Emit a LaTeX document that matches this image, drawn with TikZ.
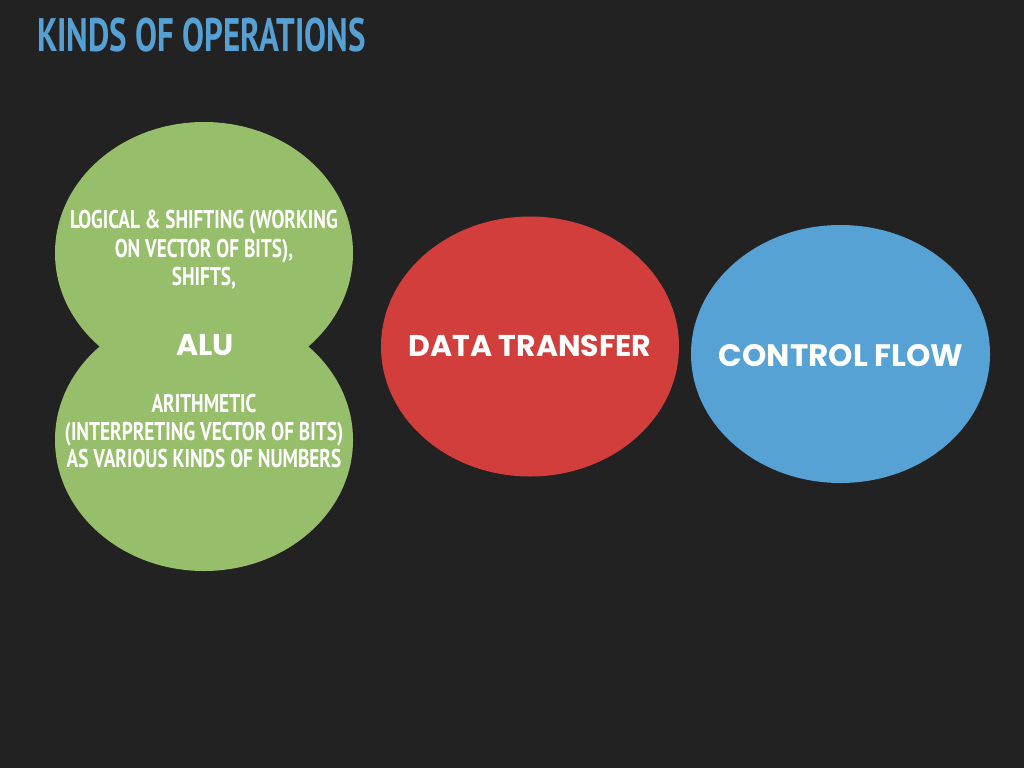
\documentclass[tikz,border=0pt]{standalone}
\usepackage{fontspec}
\usetikzlibrary{shapes.geometric}
\newfontfamily\dinfont{PT Sans}[FakeStretch=0.75]
\newfontfamily\dintitle{PT Sans}[FakeStretch=0.70]
\newfontfamily\heavyfont{Poppins}
\definecolor{bg}{HTML}{222222}
\definecolor{titleblue}{HTML}{56A0D3}
\definecolor{algreen}{HTML}{97BE6A}
\definecolor{dtred}{HTML}{D13E3C}
\definecolor{cfblue}{HTML}{56A2D5}
\tikzset{
  blob/.style={ellipse, inner sep=0pt, minimum width=298pt, minimum height=262pt, draw=none},
  cond/.style={text=white, anchor=base, inner sep=0pt, font=\dinfont\bfseries\fontsize{25.7}{28}\selectfont},
  heavy/.style={text=white, anchor=base, inner sep=0pt, font=\heavyfont\bfseries\fontsize{30}{33}\selectfont},
}
\begin{document}
\begin{tikzpicture}[x=1pt,y=-1pt]
\fill[bg] (0,0) rectangle (1024,768);
\useasboundingbox (0,0) rectangle (1024,768);
\node[anchor=base west, inner sep=0pt, text=titleblue, font=\dintitle\bfseries\fontsize{47}{50}\selectfont] (title) at (37,52) {KINDS OF OPERATIONS};
\node[blob, fill=algreen] (alutop) at (204,253) {};
\node[blob, fill=algreen] (alubot) at (204,440) {};
\node[blob, fill=dtred, minimum height=260pt] (dt) at (530,346.5) {};
\node[blob, fill=cfblue, minimum width=299pt, minimum height=258pt] (cf) at (840.5,354) {};
\node[cond] (l1) at (204,228) {LOGICAL \& SHIFTING (WORKING};
\node[cond] (l2) at (204,257) {ON VECTOR OF BITS),};
\node[cond] (l3) at (204,285) {SHIFTS,};
\node[heavy] (alu) at (205,355) {ALU};
\node[cond] (l4) at (204,412) {ARITHMETIC};
\node[cond] (l5) at (204,440) {(INTERPRETING VECTOR OF BITS)};
\node[cond] (l6) at (204,467) {AS VARIOUS KINDS OF NUMBERS};
\node[heavy] (dtl) at (530,356) {DATA TRANSFER};
\node[heavy, font=\heavyfont\bfseries\fontsize{31}{34}\selectfont] (cfl) at (841,366) {CONTROL FLOW};
\end{tikzpicture}
\end{document}
